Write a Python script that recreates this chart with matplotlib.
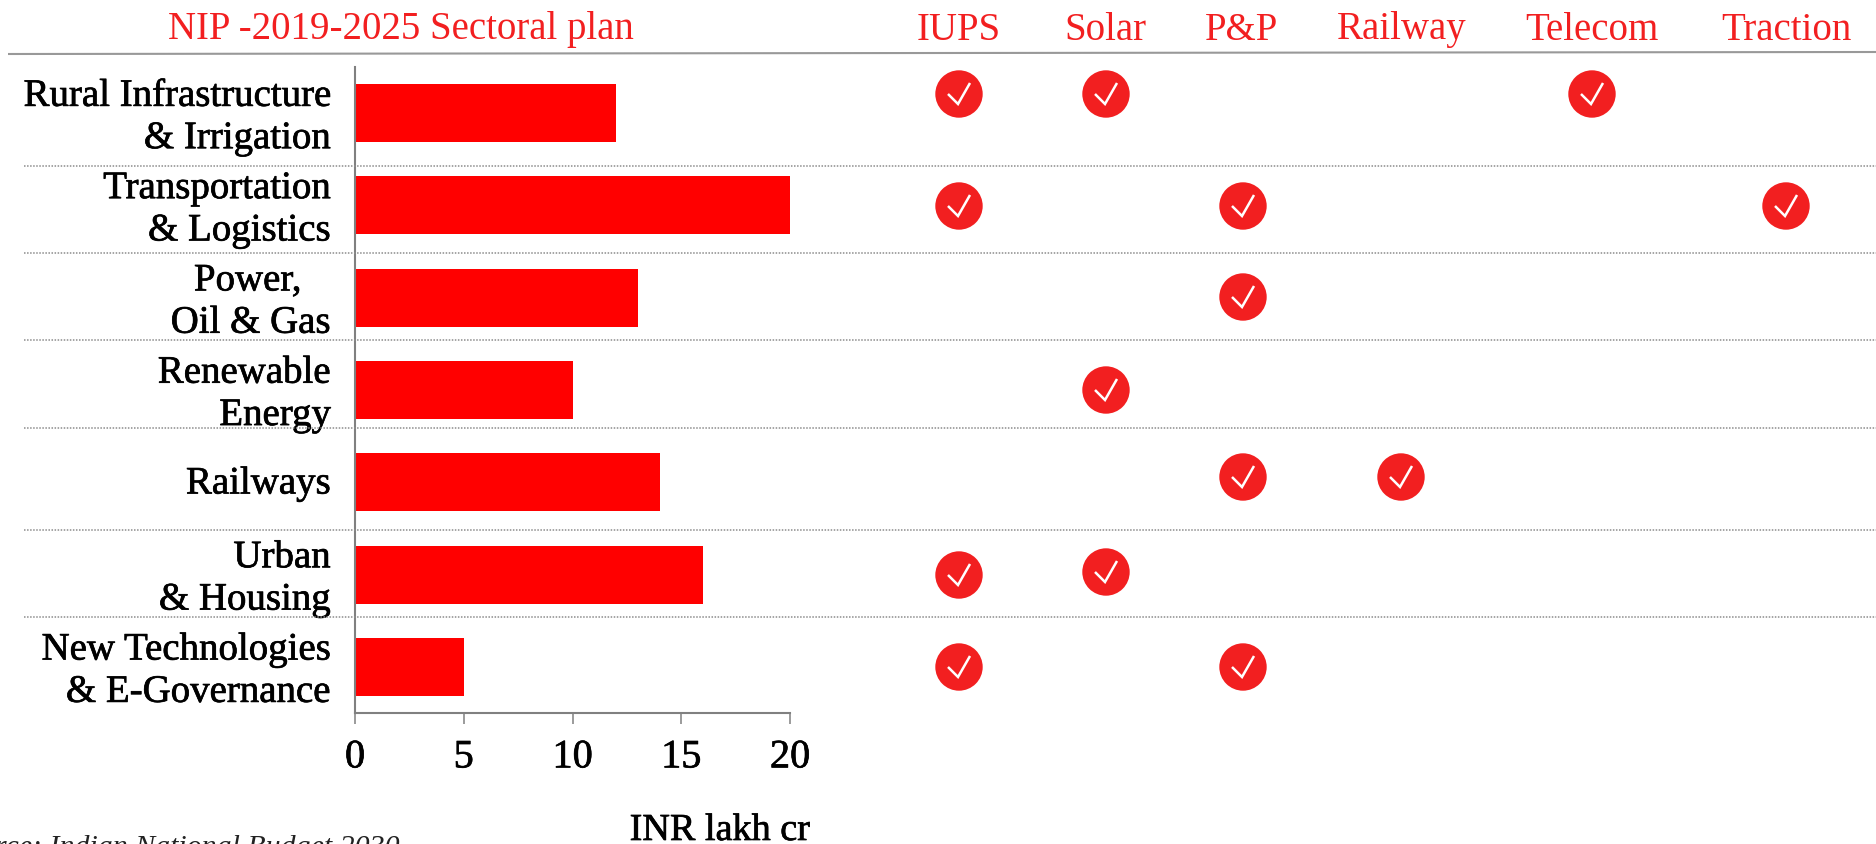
#!/usr/bin/env python3
"""NIP 2019-2025 sectoral plan: bar chart plus product/sector check matrix."""

import matplotlib

matplotlib.use("Agg")
import matplotlib.patheffects as pe
import matplotlib.pyplot as plt
from matplotlib.transforms import ScaledTranslation

W, H = 1876, 845

SECTORS = [
    "Rural Infrastructure\n& Irrigation",
    "Transportation\n& Logistics",
    "Power,   \nOil & Gas",
    "Renewable\nEnergy",
    "Railways",
    "Urban\n& Housing",
    "New Technologies\n& E-Governance",
]
INVESTMENT = [12, 20, 13, 10, 14, 16, 5]
TICKS = [0, 5, 10, 15, 20]

PRODUCTS = ["IUPS", "Solar", "P&P", "Railway", "Telecom", "Traction"]
# sector indices served by each product
SERVED = {
    "IUPS": [0, 1, 5, 6],
    "Solar": [0, 3, 5],
    "P&P": [1, 2, 4, 6],
    "Railway": [4],
    "Telecom": [0],
    "Traction": [1],
}

# layout, pixels from the top left corner
COL_X = {"IUPS": 959, "Solar": 1106, "P&P": 1243, "Railway": 1401, "Telecom": 1592, "Traction": 1786}
HEAD_X = {"IUPS": 959, "Solar": 1105, "P&P": 1242, "Railway": 1402, "Telecom": 1592, "Traction": 1786}
ROW_Y = [95, 207, 298, 391, 478, 576, 668]
ROW_NUDGE = {("Solar", 5): -3}
DOTTED_Y = [167, 254, 341, 429, 531, 618]

RED = "#ff0000"
BADGE = "#f21f20"
GREY = "#808080"
HEAVY = [pe.withStroke(linewidth=0.5, foreground="black")]

plt.rcParams["font.family"] = "Liberation Serif"

fig = plt.figure(figsize=(W / 100, H / 100), dpi=100)

# full-figure overlay in pixel coordinates for rules, badges and headers
ov = fig.add_axes([0, 0, 1, 1], zorder=3)
ov.set_xlim(0, W)
ov.set_ylim(H, 0)
ov.axis("off")

left, right, top, bottom = 355, 790, 68, 714
ax = fig.add_axes([left / W, 1 - bottom / H, (right - left) / W, (bottom - top) / H], zorder=2)
ax.patch.set_alpha(0)
ax.barh(range(len(SECTORS)), INVESTMENT, height=0.63, color=RED)
ax.set_xlim(0, 20)
ax.set_ylim(len(SECTORS) - 0.5, -0.5)
ax.set_xticks(TICKS)
ax.set_yticks(range(len(SECTORS)))
ax.set_yticklabels(SECTORS, fontsize=28, linespacing=1.19, ha="right", path_effects=HEAVY)
ax.tick_params(axis="y", length=0, pad=17.5)
ax.tick_params(axis="x", length=8, width=1.1, color=GREY, labelsize=29, pad=11)
# lift the sector names a little so they sit level with the bars
lift = ScaledTranslation(0, 2 / 72, fig.dpi_scale_trans)
for lab in ax.get_yticklabels():
    lab.set_transform(lab.get_transform() + lift)
for lab in ax.get_xticklabels():
    lab.set_path_effects(HEAVY)
for side in ("top", "right"):
    ax.spines[side].set_visible(False)
for side in ("left", "bottom"):
    ax.spines[side].set_color(GREY)
    ax.spines[side].set_linewidth(1.5)

# rules
ov.plot([8, W], [55, 53], color="#999999", lw=1.5, solid_capstyle="butt")
for y in DOTTED_Y:
    ov.plot([24, W], [y, y], color="#8c8c8c", lw=1.1, ls=(0, (1, 1)))

# headers
ov.text(401, 29, "NIP -2019-2025 Sectoral plan", color=BADGE, fontsize=28, ha="center", va="center")
for name in PRODUCTS:
    ov.text(HEAD_X[name], 30, name, color=BADGE, fontsize=28, ha="center", va="center")

# check badges
for name in PRODUCTS:
    x = COL_X[name]
    for row in SERVED[name]:
        y = ROW_Y[row] + ROW_NUDGE.get((name, row), 0)
        ov.add_patch(plt.Circle((x, y), 23.7, color=BADGE, lw=0))
        ov.plot([x - 11, x - 1, x + 11], [y, y + 10, y - 11], color="white", lw=1.8,
                solid_joinstyle="miter", solid_capstyle="butt")

# axis caption and source sit low and run off the canvas
ov.text(720, 841, "INR lakh cr", fontsize=27.5, ha="center", va="baseline", color="black", path_effects=HEAVY)
ov.text(400, 855, "Source: Indian National Budget 2030", fontsize=21.5, style="italic",
        ha="right", va="baseline", color="#222222")

fig.savefig("out.png", dpi=100)
